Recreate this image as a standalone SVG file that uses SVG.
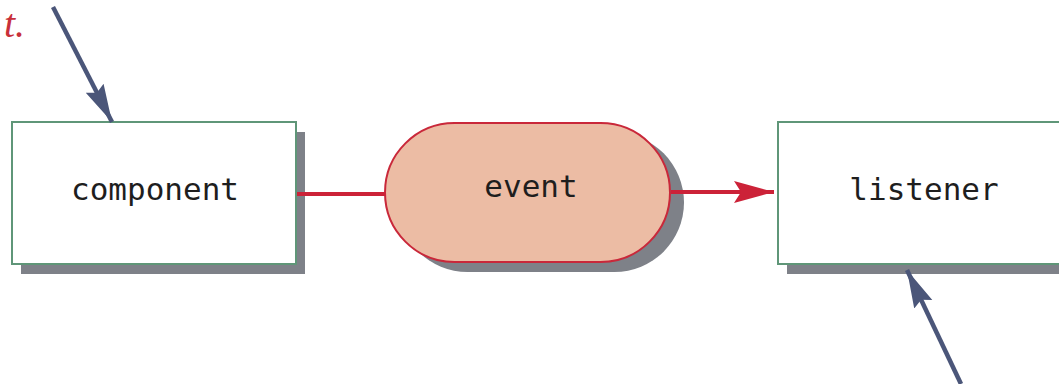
<svg xmlns="http://www.w3.org/2000/svg" width="1059" height="384" viewBox="0 0 1059 384">
<style>
.shadow{fill:#7e8188}
.box{fill:#ffffff;stroke:#5f9678;stroke-width:2}
.pill{fill:#ecbca4;stroke:#c9283a;stroke-width:2}
.lbl{font-family:"DejaVu Sans Mono","Liberation Mono",monospace;font-size:31px;fill:#1e1e1e;text-anchor:middle}
.red{stroke:#cc2238;stroke-width:4;fill:none}
.blue{stroke:#4b5679;stroke-width:4.5;fill:none}
.note{font-family:"Liberation Serif",serif;font-style:italic;font-size:40px;fill:#c8303a}
</style>
<defs>
<marker id="redHead" markerWidth="40" markerHeight="24" refX="40" refY="12" orient="auto" markerUnits="userSpaceOnUse">
<path d="M0,1 L40,12 L0,23 L7,12 Z" fill="#cc2238"/>
</marker>
<marker id="blueHead" markerWidth="38" markerHeight="22" refX="38" refY="11" orient="auto" markerUnits="userSpaceOnUse">
<path d="M0,1 L38,11 L0,21 L5,11 Z" fill="#4b5679"/>
</marker>
</defs>
<text class="note" x="4" y="37">t.</text>
<g id="component">
<rect class="shadow" x="21" y="132" width="284" height="142"/>
<rect class="box" x="12" y="122" width="284" height="142"/>
<text class="lbl" x="155" y="200">component</text>
</g>
<g id="event">
<rect class="shadow" x="398" y="133" width="286" height="139" rx="69.5"/>
<rect class="pill" x="385" y="123" width="285" height="139" rx="69.5"/>
<text class="lbl" x="531" y="197">event</text>
</g>
<g id="listener">
<rect class="shadow" x="787" y="132" width="290" height="142"/>
<rect class="box" x="778" y="122" width="300" height="142"/>
<text class="lbl" x="924" y="200">listener</text>
</g>
<g id="connectors">
<line class="red" x1="297" y1="194" x2="385" y2="194"/>
<line class="red" x1="671" y1="192" x2="774" y2="192" marker-end="url(#redHead)"/>
<line class="blue" x1="53" y1="7" x2="112" y2="122" marker-end="url(#blueHead)"/>
<line class="blue" x1="961" y1="384" x2="907" y2="270" marker-end="url(#blueHead)"/>
</g>
</svg>
